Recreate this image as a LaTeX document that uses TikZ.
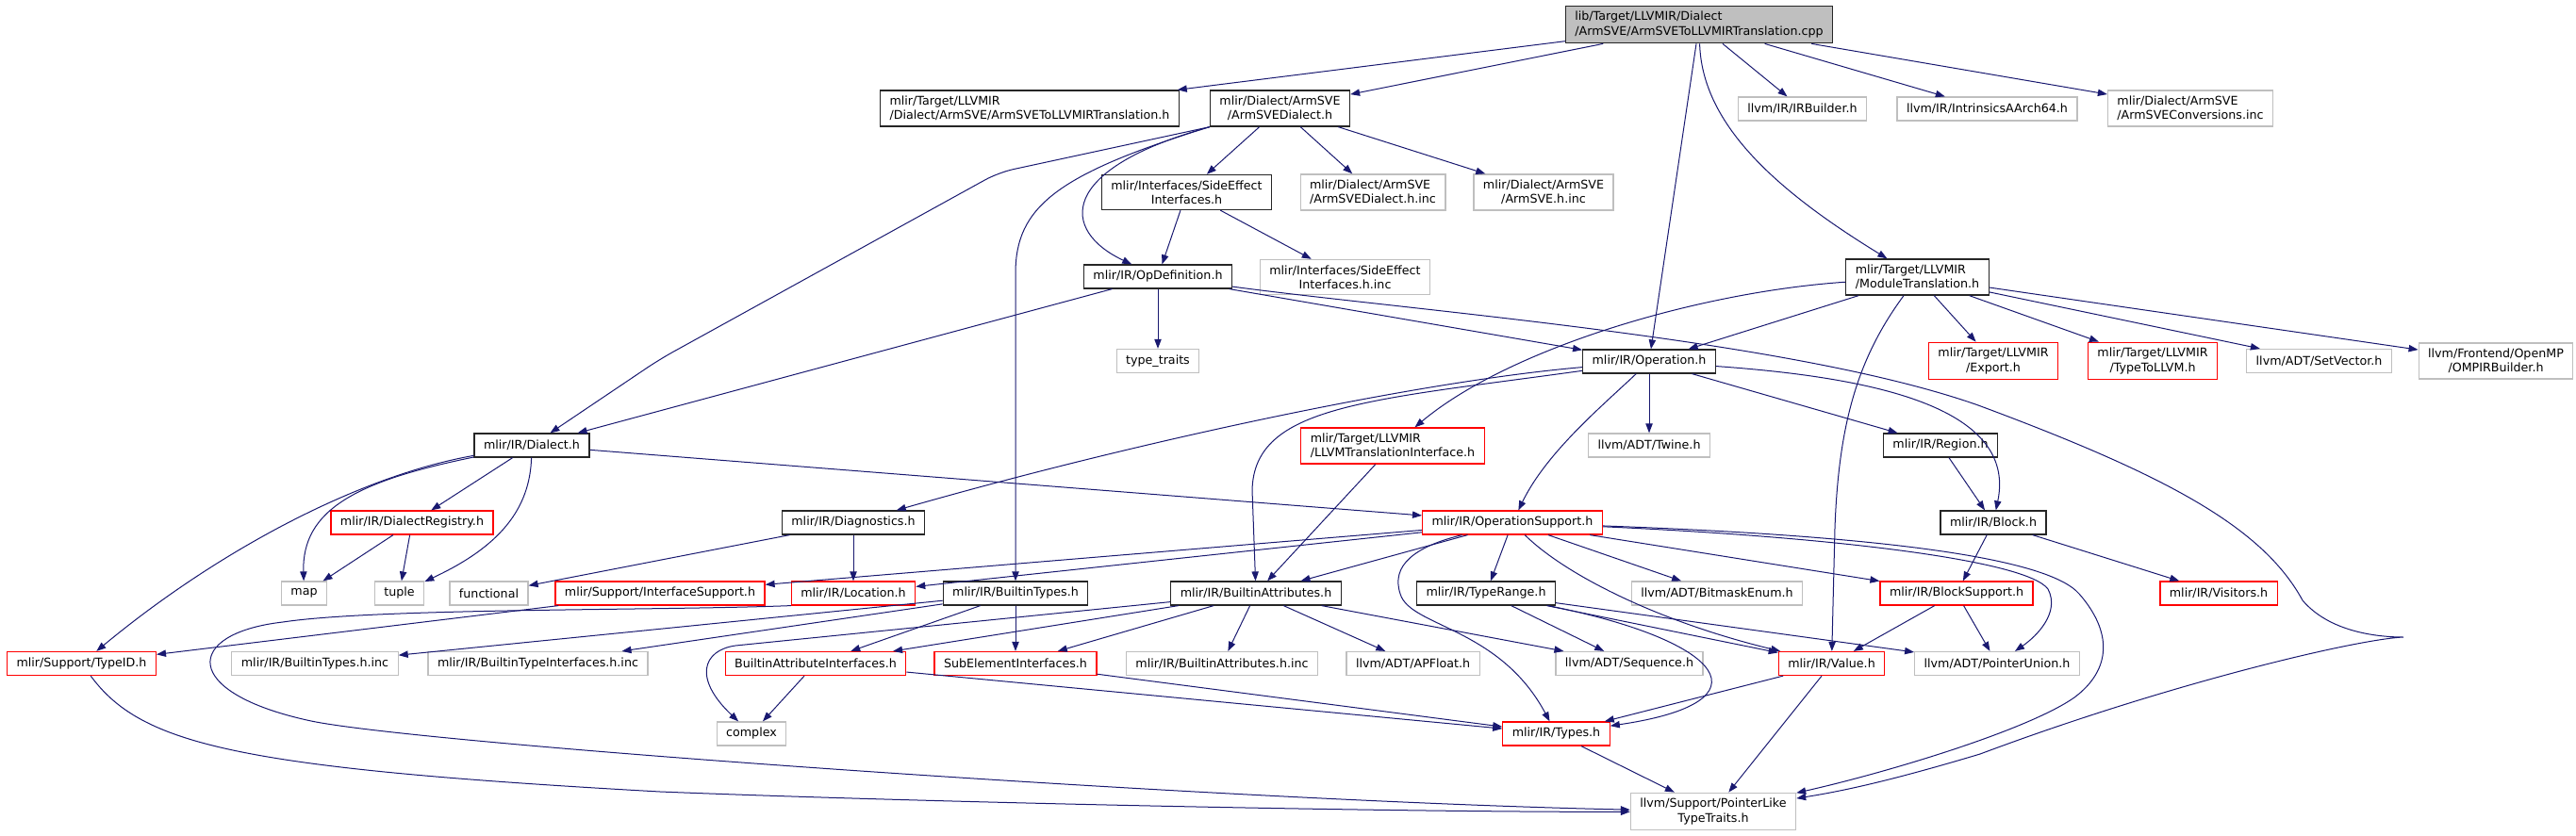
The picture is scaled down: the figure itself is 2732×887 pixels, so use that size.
\documentclass[tikz,border=0pt]{standalone}
\usepackage{fontspec}
\setmainfont{DejaVu Sans}
\usetikzlibrary{arrows.meta}
\definecolor{depblue}{HTML}{191970}
\definecolor{docgray}{HTML}{262626}
\definecolor{extgray}{HTML}{BFBFBF}
\definecolor{srcfill}{HTML}{BFBFBF}

\begin{document}
\begin{tikzpicture}[
  x=0.75pt, y=-0.75pt,
  font=\fontsize{9.5}{11.5}\selectfont,
  file/.style={draw,rectangle,line width=0.9pt,align=center,inner xsep=7.5pt,inner ysep=4.5pt,minimum height=18.75pt},
  srcfile/.style={file,draw=docgray,fill=srcfill},
  docfile/.style={file,draw=docgray},
  extfile/.style={file,draw=extgray},
  cutfile/.style={file,draw=red},
  dep/.style={draw=depblue,line width=0.75pt},
  >={Triangle[length=7.5pt,width=5.5pt]}
]
\useasboundingbox (0,0) rectangle (2732,887);

\node[srcfile,align=left] (root) at (1802,26) {lib/Target/LLVMIR/Dialect\\/ArmSVE/ArmSVEToLLVMIRTranslation.cpp};
\node[docfile,align=left] (tlh) at (1092,115) {mlir/Target/LLVMIR\\/Dialect/ArmSVE/ArmSVEToLLVMIRTranslation.h};
\node[docfile] (asd) at (1357.5,115) {mlir/Dialect/ArmSVE\\/ArmSVEDialect.h};
\node[extfile] (irb) at (1911.5,115.5) {llvm/IR/IRBuilder.h};
\node[extfile] (intr) at (2107.5,115.5) {llvm/IR/IntrinsicsAArch64.h};
\node[extfile,align=left] (conv) at (2323,115) {mlir/Dialect/ArmSVE\\/ArmSVEConversions.inc};
\node[docfile] (sei) at (1258.5,204) {mlir/Interfaces/SideEffect\\Interfaces.h};
\node[extfile,align=left] (asdinc) at (1456,204) {mlir/Dialect/ArmSVE\\/ArmSVEDialect.h.inc};
\node[extfile] (asveinc) at (1637,204) {mlir/Dialect/ArmSVE\\/ArmSVE.h.inc};
\node[docfile] (opdef) at (1228,293.5) {mlir/IR/OpDefinition.h};
\node[extfile] (seiinc) at (1426.5,294) {mlir/Interfaces/SideEffect\\Interfaces.h.inc};
\node[docfile,align=left] (modtr) at (2033.5,294) {mlir/Target/LLVMIR\\/ModuleTranslation.h};
\node[extfile] (ttraits) at (1228,383) {type\_traits};
\node[docfile] (oper) at (1749,383.5) {mlir/IR/Operation.h};
\node[cutfile] (export) at (2114,383) {mlir/Target/LLVMIR\\/Export.h};
\node[cutfile] (t2llvm) at (2283,383) {mlir/Target/LLVMIR\\/TypeToLLVM.h};
\node[extfile] (setvec) at (2459.5,383) {llvm/ADT/SetVector.h};
\node[extfile] (omp) at (2647,383) {llvm/Frontend/OpenMP\\/OMPIRBuilder.h};
\node[docfile] (dialect) at (564,472.5) {mlir/IR/Dialect.h};
\node[cutfile,align=left] (llvmti) at (1477,473) {mlir/Target/LLVMIR\\/LLVMTranslationInterface.h};
\node[extfile] (twine) at (1749,472.5) {llvm/ADT/Twine.h};
\node[docfile] (region) at (2058,472.5) {mlir/IR/Region.h};
\node[cutfile] (dreg) at (437,554.5) {mlir/IR/DialectRegistry.h};
\node[docfile] (diag) at (905,554.5) {mlir/IR/Diagnostics.h};
\node[cutfile] (opsup) at (1604,554.5) {mlir/IR/OperationSupport.h};
\node[docfile] (block) at (2114,554.5) {mlir/IR/Block.h};
\node[extfile] (map) at (322.5,629.5) {map};
\node[extfile] (tuple) at (423.5,629.5) {tuple};
\node[extfile] (functional) at (518.5,629.5) {functional};
\node[cutfile] (ifsup) at (700,629.5) {mlir/Support/InterfaceSupport.h};
\node[cutfile] (loc) at (905,629.5) {mlir/IR/Location.h};
\node[docfile] (btypes) at (1077,629.5) {mlir/IR/BuiltinTypes.h};
\node[docfile] (battr) at (1332,629.5) {mlir/IR/BuiltinAttributes.h};
\node[docfile] (trange) at (1576,629.5) {mlir/IR/TypeRange.h};
\node[extfile] (bitmask) at (1821,629.5) {llvm/ADT/BitmaskEnum.h};
\node[cutfile] (blksup) at (2075,629.5) {mlir/IR/BlockSupport.h};
\node[cutfile] (visitors) at (2353,629.5) {mlir/IR/Visitors.h};
\node[cutfile] (typeid) at (86.5,704) {mlir/Support/TypeID.h};
\node[extfile] (btinc) at (334,704) {mlir/IR/BuiltinTypes.h.inc};
\node[extfile] (btiinc) at (570.5,704) {mlir/IR/BuiltinTypeInterfaces.h.inc};
\node[cutfile] (bai) at (865,704) {BuiltinAttributeInterfaces.h};
\node[cutfile] (subel) at (1077,704) {SubElementInterfaces.h};
\node[extfile] (bainc) at (1296,704) {mlir/IR/BuiltinAttributes.h.inc};
\node[extfile] (apfloat) at (1498.6,704) {llvm/ADT/APFloat.h};
\node[extfile] (seq) at (1728,704) {llvm/ADT/Sequence.h};
\node[cutfile] (value) at (1942.5,704) {mlir/IR/Value.h};
\node[extfile] (punion) at (2118,704) {llvm/ADT/PointerUnion.h};
\node[extfile] (complex) at (797,778.5) {complex};
\node[cutfile] (types) at (1650.5,778.5) {mlir/IR/Types.h};
\node[extfile] (plike) at (1817,861) {llvm/Support/PointerLike\\TypeTraits.h};

\foreach \a/\b in {root/tlh,root/asd,root/oper,root/irb,root/intr,root/conv,
  asd/sei,asd/asdinc,asd/asveinc,sei/opdef,sei/seiinc,opdef/ttraits,opdef/oper,opdef/dialect,
  modtr/oper,modtr/export,modtr/t2llvm,modtr/setvec,modtr/omp,
  oper/twine,oper/region,region/block,
  dialect/dreg,dialect/opsup,dreg/map,dreg/tuple,diag/functional,diag/loc,
  opsup/ifsup,opsup/loc,opsup/battr,opsup/trange,opsup/bitmask,opsup/blksup,
  llvmti/battr,block/blksup,block/visitors,
  ifsup/typeid,btypes/btinc,btypes/btiinc,btypes/bai,btypes/subel,
  battr/bai,battr/subel,battr/bainc,battr/apfloat,battr/seq,
  trange/seq,trange/value,trange/punion,blksup/value,blksup/punion,
  bai/complex,bai/types,subel/types,value/types,value/plike,types/plike}
  \draw[->,dep] (\a) -- (\b);

\draw[->,dep] (root) .. controls (1805,130) and (1880,200) .. (modtr);
\draw[->,dep] (asd.south west) .. controls (1120,180) and (1125,245) .. (opdef);
\draw[->,dep,rounded corners=12pt] (asd.south west) -- (1059,183) -- (700,381) -- (dialect);
\draw[->,dep] (asd.south west) .. controls (1120,185) and (1077,220) .. (1077,290) -- (btypes);
\draw[->,dep] (opdef) .. controls (1500,330) and (1900,360) .. (2098,430)
  .. controls (2300,505) and (2400,560) .. (2442,637)
  .. controls (2470,670) and (2520,676) .. (2549,676)
  .. controls (2500,678) and (2300,725) .. (2100,800)
  .. controls (2000,830) and (1950,840) .. (plike);
\draw[->,dep] (oper) .. controls (1500,405) and (1200,470) .. (diag);
\draw[->,dep] (oper) .. controls (1450,425) and (1330,430) .. (1328,520) -- (battr);
\draw[->,dep] (oper) .. controls (1700,430) and (1640,480) .. (opsup);
\draw[->,dep] (oper) .. controls (1980,400) and (2140,430) .. (block);
\draw[->,dep] (modtr) .. controls (1800,310) and (1600,370) .. (llvmti);
\draw[->,dep] (modtr) .. controls (1970,380) and (1950,450) .. (1946,560) -- (value);
\draw[->,dep] (dialect) .. controls (380,510) and (320,540) .. (map);
\draw[->,dep] (dialect) .. controls (562,540) and (530,580) .. (tuple);
\draw[->,dep] (dialect) .. controls (380,505) and (230,585) .. (typeid);
\draw[->,dep] (opsup) .. controls (1500,580) and (1475,600) .. (1485,630)
  .. controls (1495,665) and (1590,665) .. (types);
\draw[->,dep] (opsup) .. controls (1660,610) and (1760,660) .. (value);
\draw[->,dep] (trange) .. controls (1830,680) and (1880,745) .. (types);
\draw[->,dep] (opsup) .. controls (1950,570) and (2150,595) .. (2172,625)
  .. controls (2185,650) and (2160,675) .. (punion);
\draw[->,dep] (opsup) .. controls (1980,568) and (2170,590) .. (2205,630)
  .. controls (2240,670) and (2240,710) .. (2200,740)
  .. controls (2150,775) and (2000,820) .. (plike);
\draw[->,dep] (battr) -- (780,685) .. controls (745,690) and (735,720) .. (complex);
\draw[->,dep] (loc.south west) .. controls (700,648) and (400,645) .. (300,660)
  .. controls (195,672) and (190,735) .. (330,765)
  .. controls (450,790) and (1300,850) .. (plike);
\draw[->,dep] (typeid) .. controls (150,790) and (250,815) .. (700,840)
  .. controls (1000,852) and (1500,862) .. (plike);
\end{tikzpicture}
\end{document}
